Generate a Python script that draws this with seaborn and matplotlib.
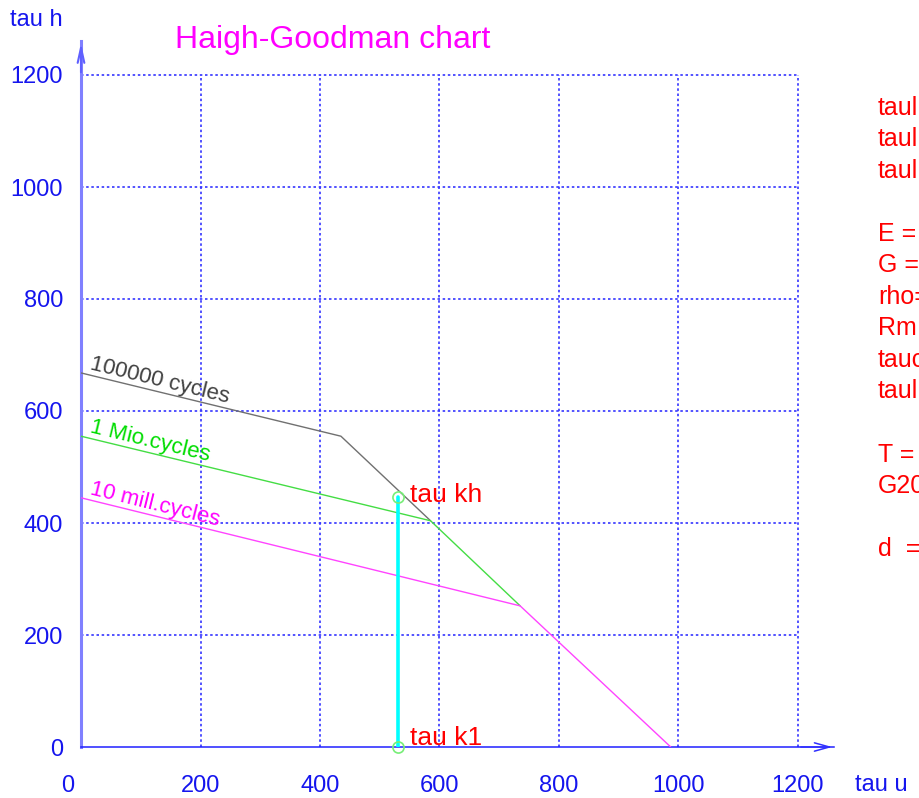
import matplotlib
matplotlib.use("Agg")
import matplotlib.pyplot as plt
import matplotlib.transforms as mtransforms
import seaborn as sns
import numpy as np
import pandas as pd

# Haigh-Goodman values (N/mm^2)
ticks = [0, 200, 400, 600, 800, 1000, 1200]
tau_u_100k = [0, 435, 585]
tau_h_100k = [668, 555, 404]
tau_u_1mio = [0, 585, 735]
tau_h_1mio = [555, 404, 252]
tau_u_10mio = [0, 735, 987]
tau_h_10mio = [445, 252, 0]
tau_k1 = 530
tau_kh = 446
curve_names = ["100000 cycles", "1 Mio.cycles", "10 mill.cycles"]
curve_colors = ["#707070", "#44dd44", "#ff44ff"]
label_colors = ["#404040", "#00dd00", "#ff00ff"]
info_lines = ["taul", "taul", "taul", "", "E =", "G =", "rho=", "Rm",
              "tauc", "taul", "", "T =", "G20", "", "d  ="]

sns.set_theme(style="white")
plt.rcParams["font.family"] = ["Liberation Sans", "DejaVu Sans"]

curves = [(tau_u_100k, tau_h_100k), (tau_u_1mio, tau_h_1mio), (tau_u_10mio, tau_h_10mio)]
df = pd.concat([pd.DataFrame({"tau u": u, "tau h": h, "curve": name})
                for (u, h), name in zip(curves, curve_names)], ignore_index=True)

W, H = 920, 798
fig = plt.figure(figsize=(W / 100, H / 100), dpi=100)
ax = fig.add_axes([81 / W, (H - 747) / H, 1260 * 0.5975 / W, 1260 * 0.56 / H])
ax.set_xlim(0, 1260)
ax.set_ylim(0, 1260)

# dotted blue grid, only inside the 0..1200 square
grid_c = "#3535ff"
ax.vlines(ticks[1:], 0, 1200, colors=grid_c, linestyles=(0, (1.5, 1.6)), lw=1.2, zorder=1)
ax.hlines(ticks[1:], 0, 1200, colors=grid_c, linestyles=(0, (1.5, 1.6)), lw=1.2, zorder=1)

sns.lineplot(data=df, x="tau u", y="tau h", hue="curve", sort=False, estimator=None,
             palette=dict(zip(curve_names, curve_colors)), legend=False, lw=1.0, ax=ax, zorder=3)

# curve labels along the first segment
for (u, h), name, c in zip(curves, curve_names, label_colors):
    slope = (h[1] - h[0]) / (u[1] - u[0])
    ang = np.degrees(np.arctan(slope))
    ax.text(13, h[0] + slope * 13 + 10, name, color=c, fontsize=16,
            rotation=ang, rotation_mode="anchor", transform_rotates_text=True,
            ha="left", va="baseline", zorder=4)

# working stroke tau k1 -> tau kh
ax.plot([tau_k1, tau_k1], [0, tau_kh], color="#00ffff", lw=2.6, zorder=5)
ax.plot([tau_k1, tau_k1], [0, tau_kh], "o", mfc="none", mec="#77ee77", mew=1.2, ms=8,
        clip_on=False, zorder=6)
ax.text(tau_k1 + 21, tau_kh - 8, "tau kh", color="red", fontsize=19, va="baseline")
ax.text(tau_k1 + 21, 4, "tau k1", color="red", fontsize=19, va="baseline")

# axes with arrows
for side in ["top", "right"]:
    ax.spines[side].set_visible(False)
ax.spines["left"].set_color("#8080ff")
ax.spines["left"].set_linewidth(2.2)
ax.spines["bottom"].set_color("#2020ff")
ax.spines["bottom"].set_linewidth(1.1)
ax.annotate("", xy=(1262, 0), xytext=(1200, 0), annotation_clip=False,
            arrowprops=dict(arrowstyle="->,head_length=0.9,head_width=0.25", color="#3030ff", lw=1.1))
ax.annotate("", xy=(0, 1262), xytext=(0, 1200), annotation_clip=False,
            arrowprops=dict(arrowstyle="->,head_length=0.9,head_width=0.2", color="#6060ff", lw=1.5))

ax.set_xticks(ticks)
ax.set_yticks(ticks)
ax.set_xticklabels([str(t) for t in ticks])
ax.set_yticklabels([str(t) for t in ticks])
ax.tick_params(axis="both", direction="inout", length=9, width=1, color="#2020ff",
               labelcolor="#1515ee", labelsize=17)
ax.tick_params(axis="x", pad=16)
ax.tick_params(axis="y", pad=8.5)
ax.set_xlabel("")
ax.set_ylabel("")
lbl0 = ax.get_xticklabels()[0]
lbl0.set_transform(lbl0.get_transform() + mtransforms.ScaledTranslation(-0.13, 0, fig.dpi_scale_trans))

fig.text(10 / W, 1 - 20 / H, "tau h", color="#1515ee", fontsize=17, va="center")
fig.text(855 / W, 1 - 785 / H, "tau u", color="#1515ee", fontsize=17, va="center")
fig.text(175 / W, 1 - 40 / H, "Haigh-Goodman chart", color="#ff00ff", fontsize=23, va="center")

for i, s in enumerate(info_lines):
    fig.text(878 / W, 1 - (108 + 31.5 * i) / H, s, color="red", fontsize=18, va="center")

fig.savefig("out.png", dpi=100)
